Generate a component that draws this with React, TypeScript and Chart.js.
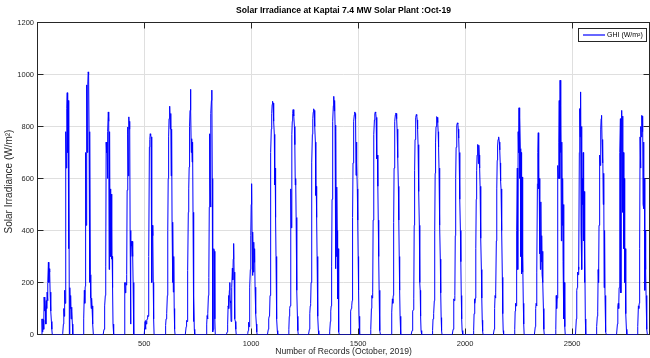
import { useEffect, useRef } from "react";
import { Chart, registerables } from "chart.js";

Chart.register(...registerables);

const FONT = "'Liberation Sans', Arial, Helvetica, sans-serif";
const INK = "#262626";
const GRID = "#dfdfdf";
const GHI_COLOR = "#0000ff";

const CHART_TITLE = "Solar Irradiance at Kaptai 7.4 MW Solar Plant :Oct-19";
const X_TITLE = "Number of Records (October, 2019)";
const Y_TITLE = "Solar Irradiance (W/m²)";
const SERIES_LABEL = "GHI (W/m²)";

// 15-minute logging: 96 records per day
const RECORDS_PER_DAY = 96;
// daily arrays hold one reading every 2 records (30 min), starting at record 20 of the day
const SAMPLE_STEP = 2;
const FIRST_SAMPLE = 20;

const X_MIN = 1;
const X_MAX = 2862;
const X_TICKS = [500, 1000, 1500, 2000, 2500];
const Y_MIN = 0;
const Y_MAX = 1200;
const Y_TICKS = [0, 200, 400, 600, 800, 1000, 1200];

// GHI (W/m²), October 2019, one array per day
const oct01 = [0, 60, 10, 60, 55, 20, 144, 90, 140, 100, 40, 130, 100, 163, 130, 200, 278, 200, 253, 240, 163, 120, 90, 50, 20, 0, 0];
const oct02 = [0, 0, 5, 40, 100, 70, 170, 120, 180, 780, 640, 870, 930, 700, 900, 330, 860, 0, 180, 100, 150, 60, 105, 90, 40, 0, 0];
const oct03 = [0, 0, 10, 60, 170, 120, 185, 700, 420, 810, 960, 700, 960, 1010, 1000, 780, 200, 780, 230, 140, 100, 140, 105, 110, 40, 0, 0];
const oct04 = [0, 0, 20, 60, 110, 150, 260, 740, 700, 740, 600, 780, 856, 820, 250, 780, 320, 560, 300, 540, 290, 300, 180, 40, 0, 0, 0];
const oct05 = [0, 0, 30, 200, 160, 200, 190, 230, 555, 798, 770, 610, 837, 790, 820, 400, 40, 300, 358, 340, 358, 300, 200, 60, 0, 0, 0];
const oct06 = [0, 0, 50, 20, 54, 40, 54, 60, 73, 70, 73, 300, 721, 750, 772, 765, 760, 420, 200, 420, 380, 200, 60, 0, 0, 0, 0];
const oct07 = [0, 0, 35, 60, 80, 80, 150, 400, 600, 760, 830, 875, 878, 790, 850, 610, 790, 432, 200, 432, 163, 300, 100, 20, 0, 0, 0];
const oct08 = [0, 0, 30, 54, 50, 60, 246, 470, 560, 644, 800, 862, 943, 862, 700, 753, 663, 740, 470, 50, 150, 20, 0, 0, 0, 0, 0];
const oct09 = [0, 0, 40, 73, 60, 80, 150, 220, 490, 772, 580, 490, 850, 900, 940, 600, 10, 20, 200, 330, 320, 60, 0, 0, 0, 0, 0];
const oct10 = [0, 0, 10, 40, 110, 150, 100, 170, 200, 130, 120, 50, 60, 180, 255, 210, 290, 350, 240, 110, 60, 50, 20, 0, 0, 0, 0];
const oct11 = [0, 0, 5, 15, 47, 30, 60, 182, 250, 380, 500, 580, 394, 227, 390, 240, 355, 278, 330, 182, 120, 80, 40, 10, 0, 0, 0];
const oct12 = [0, 0, 20, 60, 70, 75, 150, 420, 700, 790, 850, 885, 897, 890, 870, 820, 770, 575, 640, 450, 300, 150, 60, 15, 0, 0, 0];
const oct13 = [0, 0, 20, 70, 100, 110, 220, 560, 410, 770, 820, 850, 865, 860, 840, 800, 730, 575, 600, 450, 310, 170, 70, 15, 0, 0, 0];
const oct14 = [0, 0, 20, 80, 110, 120, 200, 460, 660, 770, 830, 855, 868, 862, 845, 800, 740, 535, 570, 450, 300, 170, 70, 15, 0, 0, 0];
const oct15 = [0, 0, 10, 50, 90, 110, 260, 520, 700, 820, 880, 916, 860, 900, 805, 253, 780, 300, 567, 400, 137, 330, 60, 10, 0, 0, 0];
const oct16 = [0, 0, 20, 90, 100, 110, 130, 450, 660, 770, 820, 845, 856, 850, 830, 612, 740, 660, 560, 440, 300, 170, 70, 15, 0, 0, 0];
const oct17 = [0, 0, 20, 100, 150, 140, 160, 440, 650, 770, 825, 848, 856, 852, 835, 800, 676, 690, 570, 440, 300, 170, 70, 15, 0, 0, 0];
const oct18 = [0, 0, 15, 86, 137, 120, 150, 430, 640, 760, 820, 845, 852, 850, 830, 790, 715, 680, 570, 440, 300, 170, 70, 15, 0, 0, 0];
const oct19 = [0, 0, 15, 70, 90, 95, 140, 420, 630, 750, 810, 835, 846, 842, 825, 790, 730, 650, 550, 420, 200, 170, 70, 15, 0, 0, 0];
const oct20 = [0, 0, 15, 60, 73, 80, 130, 400, 620, 740, 800, 828, 838, 835, 815, 780, 720, 640, 540, 420, 290, 160, 65, 15, 0, 0, 0];
const oct21 = [0, 0, 20, 100, 137, 130, 150, 380, 600, 720, 780, 805, 814, 810, 790, 755, 700, 620, 520, 400, 280, 150, 60, 15, 0, 0, 0];
const oct22 = [0, 0, 15, 80, 137, 120, 140, 330, 520, 630, 690, 720, 731, 657, 728, 690, 640, 570, 480, 370, 250, 140, 55, 12, 0, 0, 0];
const oct23 = [0, 0, 20, 100, 150, 140, 160, 360, 560, 670, 725, 750, 760, 757, 740, 710, 660, 590, 560, 484, 400, 220, 80, 15, 0, 0, 0];
const oct24 = [0, 0, 20, 90, 120, 110, 233, 400, 640, 250, 780, 700, 872, 600, 835, 715, 300, 700, 233, 606, 240, 300, 120, 40, 0, 0, 0];
const oct25 = [0, 0, 30, 100, 120, 110, 240, 580, 700, 776, 560, 600, 310, 520, 250, 510, 280, 380, 230, 320, 200, 100, 20, 0, 0, 0, 0];
const oct26 = [0, 0, 20, 150, 100, 140, 160, 650, 600, 740, 900, 600, 978, 700, 880, 360, 740, 420, 600, 280, 500, 60, 200, 30, 0, 0, 0];
const oct27 = [0, 0, 60, 170, 180, 240, 230, 260, 250, 700, 869, 760, 933, 400, 800, 250, 600, 500, 700, 360, 550, 200, 350, 60, 0, 0, 0];
const oct28 = [0, 0, 30, 70, 90, 250, 200, 420, 600, 690, 650, 790, 830, 843, 750, 660, 740, 500, 620, 180, 400, 150, 60, 10, 0, 0, 0];
const oct29 = [0, 0, 40, 110, 120, 100, 180, 350, 700, 830, 160, 800, 862, 600, 840, 470, 700, 330, 600, 200, 330, 190, 80, 20, 0, 0, 0];
const oct30 = [0, 0, 30, 110, 100, 120, 330, 760, 640, 800, 760, 843, 780, 840, 500, 740, 484, 600, 170, 400, 250, 150, 60, 20, 0, 0, 0];

const DAYS = [
  oct01, oct02, oct03, oct04, oct05, oct06, oct07, oct08, oct09, oct10,
  oct11, oct12, oct13, oct14, oct15, oct16, oct17, oct18, oct19, oct20,
  oct21, oct22, oct23, oct24, oct25, oct26, oct27, oct28, oct29, oct30,
];

// running record number for every reading
const ghiPoints = DAYS.flatMap((day, d) =>
  day.map((y, i) => ({ x: d * RECORDS_PER_DAY + FIRST_SAMPLE + i * SAMPLE_STEP, y }))
);

const TICK_LEN = 6;

const axesFrame = {
  id: "axesFrame",
  beforeDatasetsDraw(chart: any) {
    const { ctx, chartArea: a, scales } = chart;
    ctx.save();
    ctx.strokeStyle = INK;
    ctx.lineWidth = 1;
    ctx.strokeRect(a.left, a.top, a.right - a.left, a.bottom - a.top);
    ctx.beginPath();
    for (const v of X_TICKS) {
      const x = Math.floor(scales.x.getPixelForValue(v)) + 0.5;
      ctx.moveTo(x, a.bottom);
      ctx.lineTo(x, a.bottom - TICK_LEN);
      ctx.moveTo(x, a.top);
      ctx.lineTo(x, a.top + TICK_LEN);
    }
    for (const v of Y_TICKS) {
      const y = scales.y.getPixelForValue(v);
      ctx.moveTo(a.left, y);
      ctx.lineTo(a.left + TICK_LEN, y);
      ctx.moveTo(a.right, y);
      ctx.lineTo(a.right - TICK_LEN, y);
    }
    ctx.stroke();
    ctx.restore();
  },
  afterDraw(chart: any) {
    const { ctx, chartArea: a } = chart;
    const cx = (a.left + a.right) / 2;
    const cy = (a.top + a.bottom) / 2;
    ctx.save();
    ctx.textAlign = "center";
    ctx.textBaseline = "middle";

    ctx.fillStyle = "#000000";
    ctx.font = `bold 8.6px ${FONT}`;
    ctx.fillText(CHART_TITLE, cx, 10.5);

    ctx.fillStyle = INK;
    ctx.font = `8.6px ${FONT}`;
    ctx.fillText(X_TITLE, cx, 352);

    ctx.save();
    ctx.translate(9, cy + 3);
    ctx.rotate(-Math.PI / 2);
    ctx.font = `10px ${FONT}`;
    ctx.fillText(Y_TITLE, 0, 0);
    ctx.restore();

    // legend box in the upper right corner of the axes
    const lx = 578.5;
    const ly = 28.5;
    ctx.fillStyle = "#ffffff";
    ctx.fillRect(lx, ly, 68, 13);
    ctx.strokeStyle = INK;
    ctx.lineWidth = 1;
    ctx.strokeRect(lx, ly, 68, 13);
    ctx.strokeStyle = GHI_COLOR;
    ctx.lineWidth = 1.2;
    ctx.beginPath();
    ctx.moveTo(583, 35);
    ctx.lineTo(605, 35);
    ctx.stroke();
    ctx.fillStyle = "#000000";
    ctx.textAlign = "left";
    ctx.font = `7px ${FONT}`;
    ctx.fillText(SERIES_LABEL, 607, 35.5);
    ctx.restore();
  },
};

export default function App() {
  const canvasRef = useRef<HTMLCanvasElement | null>(null);

  useEffect(() => {
    if (!canvasRef.current) return;
    const tickFont = { family: FONT, size: 7.5 };
    const chart = new Chart(canvasRef.current, {
      type: "line",
      data: {
        datasets: [
          {
            label: SERIES_LABEL,
            data: ghiPoints,
            borderColor: GHI_COLOR,
            borderWidth: 1,
            pointRadius: 0,
            fill: false,
            tension: 0,
          },
        ],
      },
      options: {
        responsive: false,
        animation: false,
        devicePixelRatio: 1,
        layout: { padding: { top: 22.5, right: 0.5, left: 0, bottom: 0 } },
        plugins: {
          legend: { display: false },
          title: { display: false },
          tooltip: { enabled: false },
        },
        scales: {
          x: {
            type: "linear",
            min: X_MIN,
            max: X_MAX,
            afterBuildTicks: (s: any) => {
              s.ticks = X_TICKS.map((value) => ({ value }));
            },
            afterFit: (s: any) => {
              s.height = 23.5;
            },
            grid: { color: GRID, lineWidth: 1, drawTicks: false },
            border: { display: false },
            ticks: {
              font: tickFont,
              color: INK,
              padding: 5,
              maxRotation: 0,
              autoSkip: false,
              callback: (v: any) => String(v),
            },
          },
          y: {
            type: "linear",
            min: Y_MIN,
            max: Y_MAX,
            afterBuildTicks: (s: any) => {
              s.ticks = Y_TICKS.map((value) => ({ value }));
            },
            afterFit: (s: any) => {
              s.width = 37.5;
            },
            grid: { color: GRID, lineWidth: 1, drawTicks: false },
            border: { display: false },
            ticks: {
              font: tickFont,
              color: INK,
              padding: 3.5,
              autoSkip: false,
              callback: (v: any) => String(v),
            },
          },
        },
      },
      plugins: [axesFrame],
    });
    return () => chart.destroy();
  }, []);

  return (
    <div style={{ position: "absolute", left: 0, top: 0, width: 650, height: 358, background: "#ffffff" }}>
      <canvas ref={canvasRef} width={650} height={358} style={{ display: "block" }} />
    </div>
  );
}
